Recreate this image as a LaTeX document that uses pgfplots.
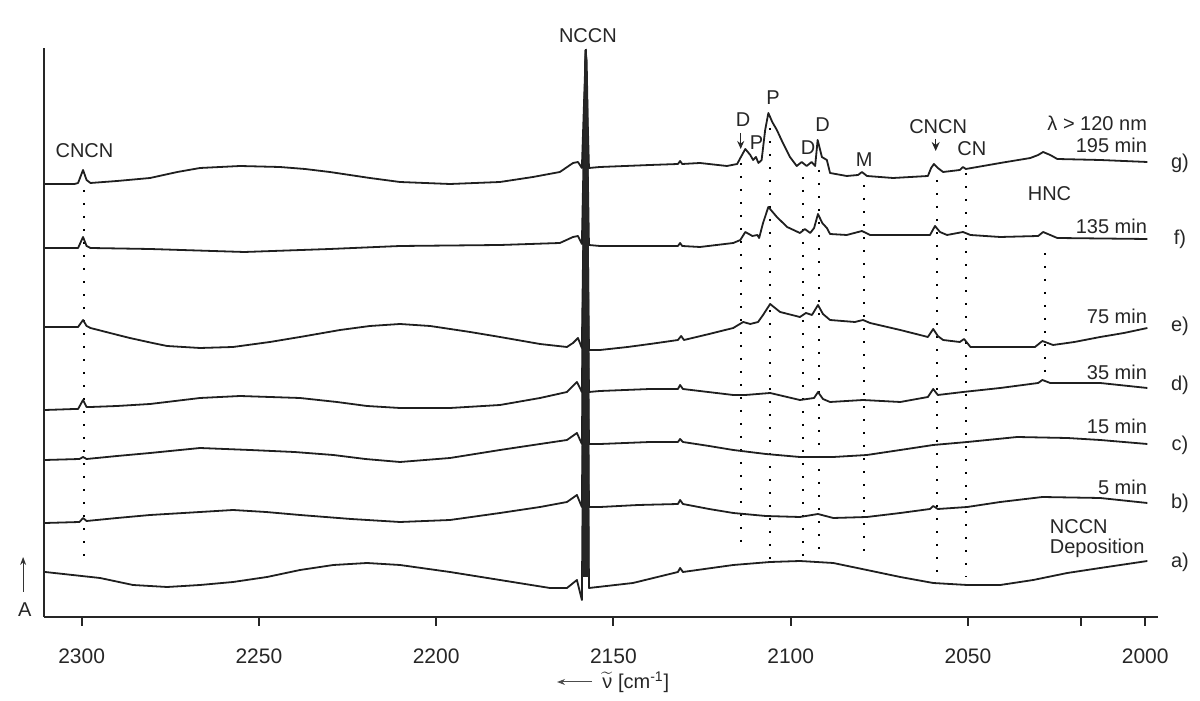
\documentclass[border=0pt]{standalone}
\usepackage{fontspec}
\setmainfont{Liberation Sans}
\usepackage{pgfplots}
\pgfplotsset{compat=1.18}
\usetikzlibrary{arrows.meta}

\tikzset{
  dots/.style={line width=1pt, black, dash pattern=on 1pt off 5.5pt},
  trace/.style={line width=0.9pt, black!88, line join=round, mark=none, solid},
  lbl/.style={font=\fontsize{10}{12}\selectfont, inner sep=0pt, text=black!85},
}

\begin{document}
\begin{tikzpicture}
\path[use as bounding box] (-21.85pt,-42pt) rectangle (578.15pt,308.5pt);
\begin{axis}[
  at={(0pt,0pt)}, anchor=south west,
  scale only axis, width=557.15pt, height=284.5pt,
  x dir=reverse, xmin=1996.4, xmax=2310.7, ymin=0, ymax=569,
  axis x line=bottom, axis y line=left,
  axis line style={-, line width=0.9pt, black!85},
  xtick={2000,2050,...,2300}, ytick=\empty,
  extra x ticks={2018}, extra x tick labels={},
  tick align=outside, major tick length=4.5pt,
  tick style={line width=1pt, black!85},
  x tick label style={font=\fontsize{10.5}{12}\selectfont, yshift=-8pt, text=black!85},
  /pgf/number format/assume math mode=true,
  /pgf/number format/1000 sep={},
  clip=false,
]

% dotted marker lines
\addplot[dots] coordinates {(2299.3,427)(2299.3,51)};
\addplot[dots] coordinates {(2114.0,454)(2114.0,65)};
\addplot[dots] coordinates {(2105.8,489)(2105.8,57)};
\addplot[dots] coordinates {(2096.6,440)(2096.6,57)};
\addplot[dots] coordinates {(2092.0,447)(2092.0,62)};
\addplot[dots] coordinates {(2079.3,432)(2079.3,62)};
\addplot[dots] coordinates {(2058.7,437)(2058.7,44)};
\addplot[dots] coordinates {(2050.6,444)(2050.6,40)};
\addplot[dots] coordinates {(2028.3,364)(2028.3,245)};

% g) 195 min
\addplot[trace] coordinates {(2310.3,433)(2302.0,433)(2301.0,434)(2299.6,447)(2298.6,437)(2297.5,434)(2290.0,436)(2280.7,439)(2273.0,445)(2266.6,449)(2255.3,451)(2244.1,450)(2237.0,448)(2230.0,445)(2218.7,439)(2210.2,435)(2196.1,433)(2182.0,435)(2172.7,440)(2165.1,445)(2161.4,454)(2160.0,455)(2158.9,449)(2157.8,567)(2156.9,449)(2153.8,450)(2139.7,452)(2131.8,453)(2131.2,456)(2130.6,453)(2125.6,454)(2118.0,451)(2115.1,453)(2114.2,459)(2112.8,468)(2111.4,462)(2110.6,457)(2109.8,460)(2109.1,454)(2108.2,457)(2107.2,487)(2106.3,504)(2105.2,495)(2103.9,487)(2102.2,474)(2100.2,460)(2098.3,451)(2096.9,455)(2095.5,451)(2094.1,455)(2093.1,451)(2092.4,477)(2091.2,460)(2089.8,457)(2088.9,444)(2084.2,441)(2081.0,442)(2079.9,445)(2078.5,441)(2071.1,439)(2061.3,441)(2060.4,449)(2059.6,453)(2058.5,449)(2057.0,445)(2052.3,447)(2051.4,450)(2050.6,448)(2040.9,454)(2032.4,459)(2030.2,462)(2028.8,465)(2026.8,462)(2024.8,458)(2012.7,457)(1999.4,455)};

% f) 135 min
\addplot[trace] coordinates {(2310.3,369)(2302.0,369)(2301.0,369)(2299.6,380)(2298.6,371)(2297.5,369)(2280.7,368)(2254.1,365)(2230.0,368)(2210.2,371)(2182.0,372)(2165.1,374)(2161.4,380)(2160.0,381)(2158.9,373)(2157.8,567)(2156.9,372)(2153.8,371)(2131.8,371)(2131.2,374)(2130.6,371)(2125.6,370)(2116.2,374)(2114.2,377)(2112.8,385)(2110.8,381)(2109.4,382)(2108.9,379)(2107.8,394)(2106.3,410)(2103.9,400)(2101.0,390)(2097.4,384)(2096.0,388)(2094.5,384)(2093.4,389)(2092.3,403)(2091.1,394)(2089.8,389)(2088.9,383)(2084.2,382)(2079.9,386)(2077.6,382)(2060.7,382)(2059.3,391)(2057.9,385)(2055.9,382)(2051.4,385)(2049.3,382)(2040.9,380)(2030.2,381)(2028.8,385)(2024.8,379)(1999.4,378)};

% e) 75 min
\addplot[trace] coordinates {(2310.3,290)(2302.0,290)(2301.0,290)(2299.6,297)(2298.6,291)(2297.5,289)(2292.0,284)(2286.4,279)(2280.0,274)(2275.9,271)(2266.6,269)(2257.3,270)(2246.9,275)(2238.4,280)(2227.1,287)(2218.7,291)(2210.2,293)(2201.7,291)(2190.4,285)(2182.0,280)(2170.7,273)(2163.1,270)(2161.4,274)(2160.0,279)(2158.9,269)(2157.8,567)(2156.9,267)(2153.8,267)(2146.0,270)(2139.7,273)(2131.8,277)(2130.9,281)(2130.1,277)(2123.0,283)(2116.2,289)(2113.4,295)(2111.4,293)(2109.2,295)(2107.8,302)(2105.8,313)(2103.0,305)(2097.4,300)(2095.7,304)(2094.0,302)(2092.3,312)(2090.9,303)(2088.9,297)(2081.9,295)(2079.6,297)(2077.6,294)(2069.1,287)(2061.3,280)(2059.8,288)(2058.5,281)(2057.0,277)(2052.3,275)(2051.1,278)(2049.3,270)(2040.9,270)(2031.1,270)(2029.0,276)(2026.0,272)(2020.0,275)(2012.7,280)(2006.0,284)(1999.4,289)};

% d) 35 min
\addplot[trace] coordinates {(2310.3,207)(2302.0,208)(2301.0,208)(2299.6,217)(2298.6,210)(2297.5,210)(2290.0,211)(2280.7,213)(2266.6,219)(2255.3,221)(2238.4,219)(2228.0,215)(2219.5,211)(2210.2,209)(2196.1,209)(2182.0,212)(2170.7,219)(2163.1,225)(2160.3,235)(2158.9,225)(2157.8,567)(2156.9,225)(2153.8,226)(2139.7,228)(2131.8,228)(2131.2,232)(2130.4,228)(2116.2,222)(2112.8,222)(2105.8,224)(2097.4,217)(2093.4,219)(2092.3,225)(2090.9,218)(2088.9,215)(2079.6,217)(2069.1,215)(2061.3,220)(2059.8,228)(2058.5,222)(2051.4,225)(2040.9,229)(2030.2,234)(2029.0,237)(2026.8,234)(2012.7,234)(1999.4,229)};

% c) 15 min
\addplot[trace] coordinates {(2310.3,157)(2300.6,158)(2299.6,160)(2298.6,158)(2290.0,161)(2280.7,164)(2266.6,169)(2252.5,167)(2240.0,165)(2229.0,162)(2220.0,158)(2210.2,155)(2196.1,159)(2182.0,167)(2170.7,173)(2163.1,177)(2160.3,184)(2158.9,173)(2157.8,567)(2156.9,173)(2153.8,173)(2139.7,175)(2131.8,175)(2131.2,178)(2130.4,175)(2123.0,171)(2116.2,167)(2107.0,163)(2097.4,160)(2088.0,160)(2078.5,162)(2069.1,167)(2059.8,172)(2050.2,175)(2036.1,180)(2022.0,179)(2012.7,177)(1999.4,173)};

% b) 5 min
\addplot[trace] coordinates {(2310.3,94)(2300.6,95)(2299.6,99)(2298.6,96)(2290.0,99)(2280.7,102)(2266.6,105)(2257.3,107)(2248.0,105)(2238.4,102)(2224.0,98)(2210.2,95)(2196.1,97)(2182.0,104)(2170.7,110)(2163.1,115)(2160.3,122)(2158.9,110)(2157.8,567)(2156.9,110)(2153.8,110)(2143.0,112)(2131.8,113)(2131.2,117)(2130.4,113)(2123.0,108)(2116.2,104)(2107.0,101)(2097.4,100)(2092.3,103)(2088.0,99)(2078.5,100)(2069.1,104)(2060.7,108)(2059.8,111)(2058.5,108)(2050.2,110)(2040.9,115)(2029.0,120)(2012.7,119)(1999.4,114)};

% a) NCCN deposition
\addplot[trace] coordinates {(2310.3,45)(2294.8,39)(2285.5,32)(2275.9,30)(2266.6,32)(2257.3,35)(2247.7,40)(2238.4,47)(2229.0,52)(2219.5,54)(2210.2,52)(2196.1,45)(2182.0,37)(2167.9,29)(2163.1,29)(2160.3,37)(2158.9,17)(2157.8,567)(2156.9,29)(2144.5,34)(2131.8,45)(2131.2,49)(2130.4,45)(2116.2,52)(2105.8,55)(2097.4,56)(2088.0,54)(2078.5,47)(2069.1,40)(2059.8,34)(2050.2,32)(2040.9,32)(2031.6,37)(2022.0,44)(2012.7,49)(1999.4,56)};

% NCCN band (overlapping saturated peaks)
\addplot[fill=black!85, draw=none, mark=none] coordinates {(2157.7,569)(2158.1,557)(2158.4,517)(2158.6,384)(2158.8,40)(2156.8,40)(2156.9,384)(2157.1,517)(2157.3,557)(2157.7,569)};

% annotations
\node[lbl] at (axis cs:2157.2,581) {NCCN};
\node[lbl] at (axis cs:2299.2,466) {CNCN};
\node[lbl] at (axis cs:2113.4,497) {D};
\draw[line width=0.6pt, black!85, -{Stealth[length=4pt,width=3.5pt]}] (axis cs:2114.1,484) -- (axis cs:2114.1,468);
\node[lbl] at (axis cs:2109.6,474) {P};
\node[lbl] at (axis cs:2105.0,519) {P};
\node[lbl] at (axis cs:2095.1,469) {D};
\node[lbl] at (axis cs:2091.0,492) {D};
\node[lbl] at (axis cs:2079.3,457) {M};
\node[lbl] at (axis cs:2058.4,490) {CNCN};
\draw[line width=0.6pt, black!85, -{Stealth[length=4.5pt,width=4pt]}] (axis cs:2059.1,478) -- (axis cs:2059.1,466);
\node[lbl] at (axis cs:2048.9,468) {CN};
\node[lbl, anchor=east] at (axis cs:1999.4,494) {λ > 120 nm};
\node[lbl, anchor=east] at (axis cs:1999.4,471.3) {195 min};
\node[lbl] at (axis cs:2027.0,423) {HNC};
\node[lbl, anchor=east] at (axis cs:1999.4,391) {135 min};
\node[lbl, anchor=east] at (axis cs:1999.4,300.3) {75 min};
\node[lbl, anchor=east] at (axis cs:1999.4,244.3) {35 min};
\node[lbl, anchor=east] at (axis cs:1999.4,191) {15 min};
\node[lbl, anchor=east] at (axis cs:1999.4,129.7) {5 min};
\node[lbl, anchor=west] at (axis cs:2027.0,90.3) {NCCN};
\node[lbl, anchor=west] at (axis cs:2027.0,69) {Deposition};
\node[lbl] at (axis cs:1990.2,454) {g)};
\node[lbl] at (axis cs:1990.2,378) {f)};
\node[lbl] at (axis cs:1990.2,291) {e)};
\node[lbl] at (axis cs:1990.2,232) {d)};
\node[lbl] at (axis cs:1990.2,172) {c)};
\node[lbl] at (axis cs:1990.2,114) {b)};
\node[lbl] at (axis cs:1990.2,55) {a)};
\node[lbl] at (axis cs:2316.0,7) {A};
\draw[line width=0.5pt, black!80, -{Stealth[length=4pt,width=3pt]}] (axis cs:2316.5,25) -- (axis cs:2316.5,60);
\draw[line width=0.5pt, black!70, -{Stealth[length=4pt,width=3pt]}] (axis cs:2156.0,-65) -- (axis cs:2165.9,-65);
\node[lbl, anchor=west] at (axis cs:2153.2,-65) {$\widetilde{\mbox{ν}}$ [cm\textsuperscript{-1}]};
\end{axis}
\end{tikzpicture}
\end{document}
